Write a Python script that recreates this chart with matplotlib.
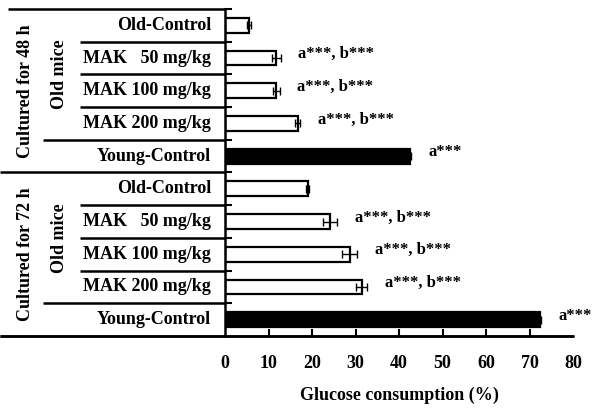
import numpy as np
import matplotlib
matplotlib.use("Agg")
import matplotlib.pyplot as plt
from matplotlib.transforms import blended_transform_factory

plt.rcParams['font.family'] = ['Liberation Serif', 'DejaVu Serif']
plt.rcParams['font.weight'] = 'bold'

# datos (de arriba hacia abajo)
labels = ['Old-Control', 'MAK   50 mg/kg', 'MAK 100 mg/kg', 'MAK 200 mg/kg', 'Young-Control'] * 2
values = [5.5, 11.8, 11.8, 16.7, 42.5, 19.0, 24.2, 28.7, 31.4, 72.4]
errors = [0.5, 1.0, 0.8, 0.6, 0.3, 0.3, 1.6, 1.7, 1.3, 0.35]
notes = ['', 'a***, b***', 'a***, b***', 'a***, b***', 'a***'] * 2
groups = ['Cultured for 48 h', 'Cultured for 72 h']
xticks = [0, 10, 20, 30, 40, 50, 60, 70, 80]

fig = plt.figure(figsize=(6, 4.09), dpi=100)
ax = fig.add_axes([0.375, 0.1785, 0.58, 0.7995])

y = np.arange(len(values))
colors = ['white' if 'Young' not in l else 'black' for l in labels]
ax.barh(y, values, height=0.45, color=colors, edgecolor='black', linewidth=1.6)
ax.errorbar(values, y, xerr=errors, fmt='none', ecolor='black', elinewidth=1, capsize=3, capthick=1)

for i in range(len(values)):
    if notes[i]:
        ax.text(values[i] + errors[i] + 4, y[i] - 0.12, notes[i], fontsize=12,
                fontweight='bold', ha='left', va='center')

ax.set_xlim(0, 80)
ax.set_ylim(9.5, -0.5)
ax.set_xticks(xticks)
ax.set_xticklabels([str(t) for t in xticks], fontsize=13, fontweight='bold')
ax.tick_params(axis='x', direction='in', length=5, width=1.5, pad=14)
ax.xaxis.get_major_ticks()[0].tick1line.set_visible(False)
ax.xaxis.get_major_ticks()[-1].tick1line.set_visible(False)
ax.set_yticks(np.arange(-0.5, 9.5, 1.0))
ax.set_yticklabels([])
ax.tick_params(axis='y', direction='in', length=5, width=1.5)
ax.set_xlabel('Glucose consumption (%)', fontsize=13, fontweight='bold', labelpad=10)

for s in ['top', 'right']:
    ax.spines[s].set_visible(False)
for s in ['left', 'bottom']:
    ax.spines[s].set_linewidth(1.8)

tr = blended_transform_factory(fig.transFigure, ax.transData)
x0 = 0.375

# etiquetas de cada fila
for i in range(len(labels)):
    ax.text(0.352, y[i], labels[i], transform=tr, fontsize=13, fontweight='bold',
            ha='right', va='center')

# lineas separadoras del lado izquierdo
for i in range(len(labels) + 1):
    yy = i - 0.5
    if i == 0:
        xs = 0.013
    elif i == 5 or i == 10:
        xs = 0.0
    elif i % 5 == 4:
        xs = 0.072
    else:
        xs = 0.133
    ax.plot([xs, x0], [yy, yy], transform=tr, color='black', lw=1.8,
            clip_on=False, solid_capstyle='butt')
ax.plot([0.0, 0.955], [9.5, 9.5], transform=tr, color='black', lw=1.8,
        clip_on=False, solid_capstyle='butt')

# etiquetas verticales de los grupos
for g in range(2):
    ax.text(0.042, 5 * g + 2, groups[g], transform=tr, rotation=90, fontsize=13,
            fontweight='bold', ha='center', va='center')
    ax.text(0.1, 5 * g + 1.5, 'Old mice', transform=tr, rotation=90, fontsize=13,
            fontweight='bold', ha='center', va='center')

fig.savefig('out.png', dpi=100)
